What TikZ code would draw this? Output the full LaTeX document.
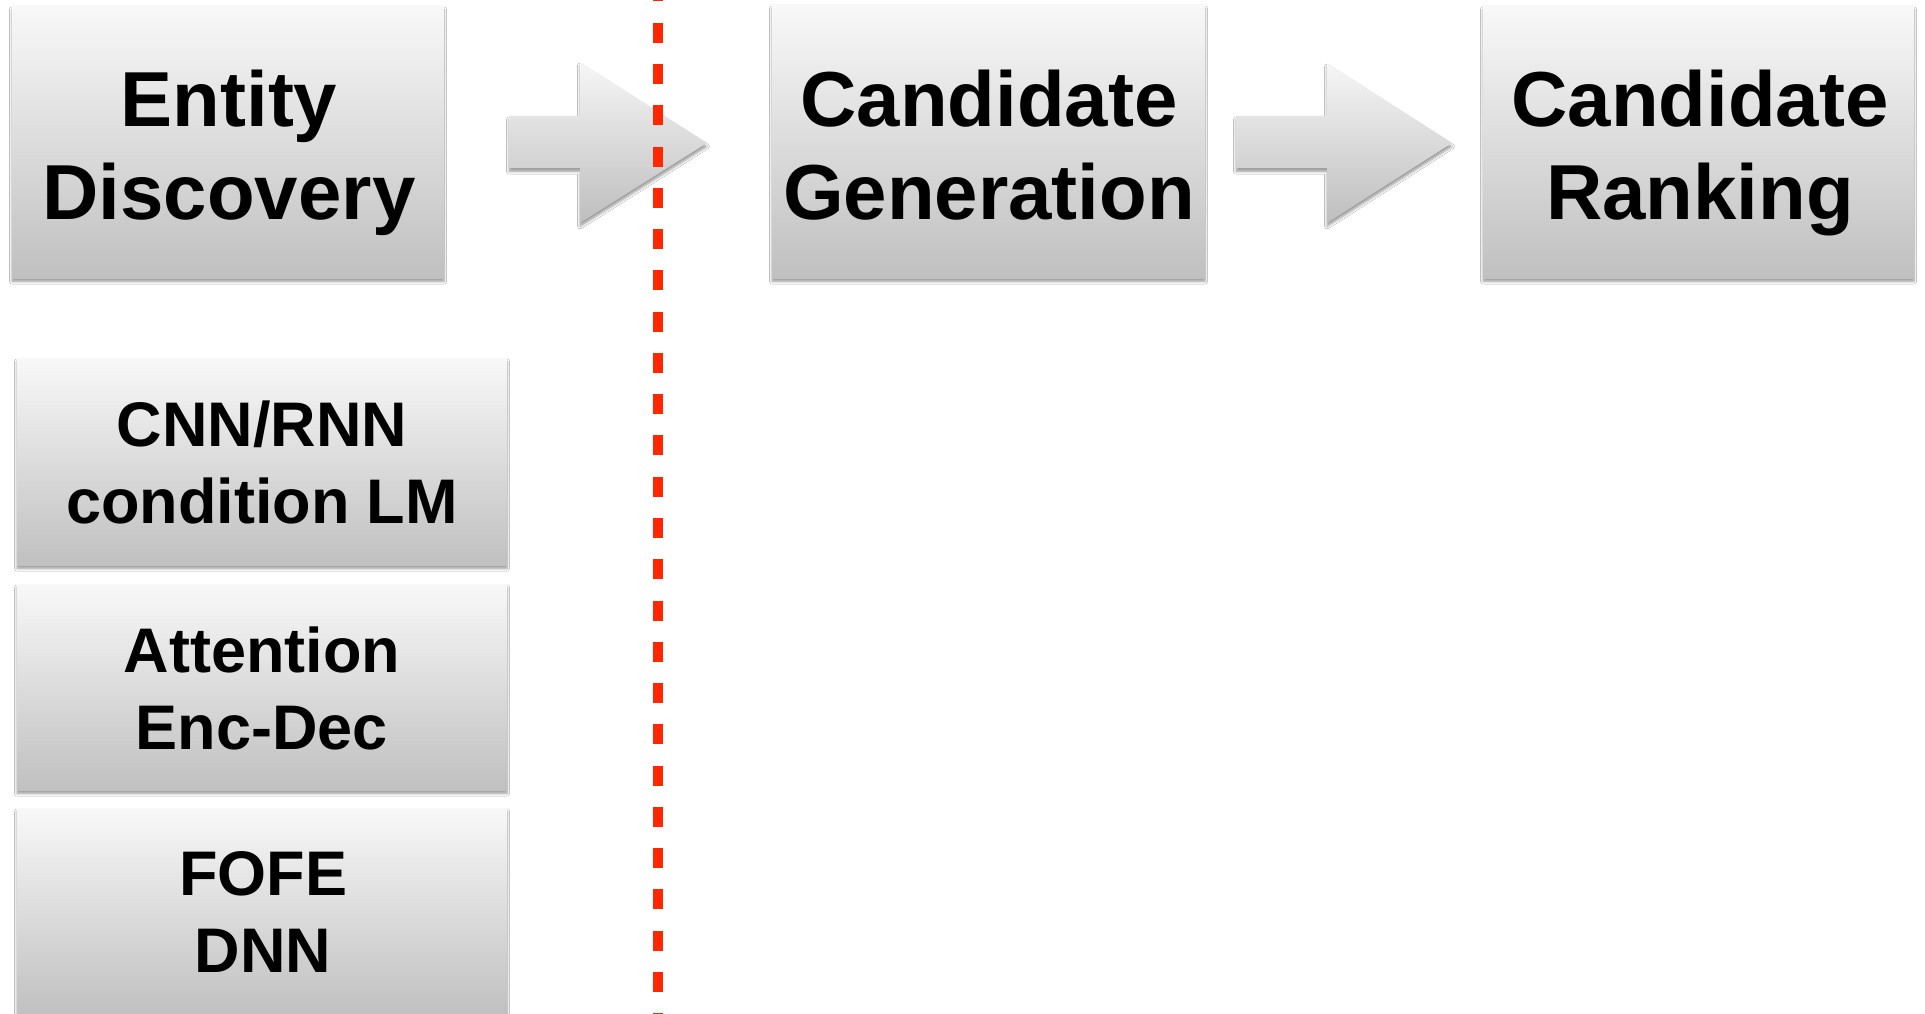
\documentclass[tikz,border=0pt]{standalone}
\usepackage{fontspec}
\setmainfont{Liberation Sans}
\usetikzlibrary{shadows.blur}
\definecolor{boxtop}{RGB}{248,248,248}
\definecolor{boxbot}{RGB}{192,192,192}
\definecolor{arrtop}{RGB}{246,246,246}
\definecolor{arrbot}{RGB}{190,190,190}
\definecolor{dashred}{RGB}{255,38,0}
\begin{document}
\begin{tikzpicture}[x=1pt,y=-1pt,
  softshadow/.style={blur shadow={shadow xshift=0pt, shadow yshift=-3.5pt, shadow blur radius=2.5pt, shadow blur steps=6, shadow opacity=40}},
  box/.style={inner sep=0pt, outer sep=0pt, draw=none, top color=boxtop, bottom color=boxbot, softshadow},
  bigtext/.style={inner sep=0pt, anchor=north, align=center, text=black, font=\fontsize{78}{93}\selectfont\bfseries},
  smalltext/.style={inner sep=0pt, anchor=north, align=center, text=black, font=\fontsize{63}{77}\selectfont\bfseries},
  blockarrow/.style={draw=none, top color=arrtop, bottom color=arrbot, softshadow},
  sepline/.style={draw=dashred, line width=10pt, line cap=butt, dash pattern=on 20pt off 21.27pt, dash phase=18.5pt}
]
\useasboundingbox (0,0) rectangle (1925,1014);
\fill[white] (0,0) rectangle (1925,1014);

% top row boxes
\node[box, minimum width=432pt, minimum height=272pt] (ed) at (228,142) {};
\node[box, minimum width=433pt, minimum height=273pt] (cg) at (988.5,141.5) {};
\node[box, minimum width=431pt, minimum height=272pt] (cr) at (1698.5,142) {};

\node[bigtext] (edt) at (229,70) {Entity\\Discovery};
\node[bigtext] (cgt) at (989,70) {Candidate\\Generation};
\node[bigtext] (crt) at (1700,70) {Candidate\\Ranking};

% left column boxes
\node[box, minimum width=490pt, minimum height=207pt] (cnn) at (262,461.5) {};
\node[box, minimum width=490pt, minimum height=206pt] (att) at (262,687) {};
\node[box, minimum width=490pt, minimum height=207pt] (fofe) at (262,911.5) {};

\node[smalltext] (cnnt) at (262,401) {CNN/RNN\\condition LM};
\node[smalltext] (attt) at (262,627) {Attention\\Enc-Dec};
\node[smalltext] (fofet) at (263,851) {FOFE\\DNN};

% block arrows
\path[blockarrow] (509,116) -- (580,116) -- (580,62) -- (707,143) -- (580,223) -- (580,168) -- (509,168) -- cycle;
\path[blockarrow] (1236,116) -- (1327,116) -- (1327,63) -- (1452,143) -- (1327,223) -- (1327,168) -- (1236,168) -- cycle;

% dashed separator
\coordinate (septop) at (658,0);
\coordinate (sepbot) at (658,1014);
\draw[sepline] (septop) -- (sepbot);
\end{tikzpicture}
\end{document}
